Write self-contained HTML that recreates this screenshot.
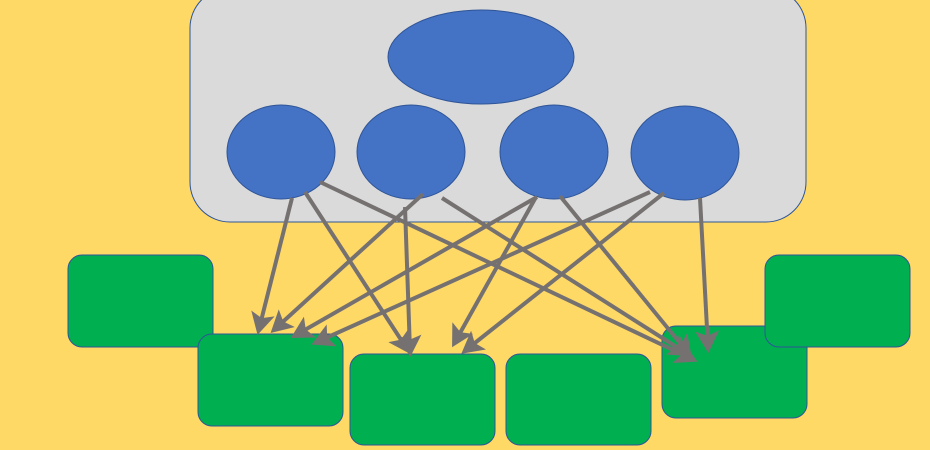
<!DOCTYPE html>
<html><head><meta charset="utf-8"><style>html,body{margin:0;padding:0;background:#ffd966;}svg{display:block}</style></head>
<body>
<svg width="930" height="450" viewBox="0 0 930 450" xmlns="http://www.w3.org/2000/svg">
<defs>
<marker id="a" markerWidth="6" markerHeight="6" refX="4" refY="3" orient="auto" markerUnits="strokeWidth">
<path d="M0,0 L5.5,3 L0,6 L1.2,3 z" fill="#767171"/>
</marker>
</defs>
<rect width="930" height="450" fill="#ffd966"/>
<rect x="190" y="-12" width="616" height="234" rx="40" fill="#dadada" stroke="#2f5597" stroke-width="1"/>
<ellipse cx="481" cy="57" rx="93" ry="47" fill="#4472c4" stroke="#2f5597"/>
<ellipse cx="281" cy="152" rx="54" ry="47" fill="#4472c4" stroke="#2f5597"/>
<ellipse cx="411" cy="152" rx="54" ry="47" fill="#4472c4" stroke="#2f5597"/>
<ellipse cx="554" cy="152" rx="54" ry="47" fill="#4472c4" stroke="#2f5597"/>
<ellipse cx="685" cy="153" rx="54" ry="47" fill="#4472c4" stroke="#2f5597"/>
<g fill="#00b050" stroke="#2f5597" stroke-width="1">
<rect x="68" y="255" width="145" height="92" rx="14"/>
<rect x="198" y="334" width="145" height="92" rx="14"/>
<rect x="350" y="354" width="145" height="91" rx="14"/>
<rect x="506" y="354" width="145" height="91" rx="14"/>
<rect x="662" y="326" width="145" height="92" rx="14"/>
<rect x="765" y="255" width="145" height="92" rx="14"/>
</g>
<g stroke="#767171" stroke-width="4" marker-end="url(#a)" fill="none">
<line x1="292" y1="198" x2="259" y2="329"/>
<line x1="305" y1="192" x2="407" y2="349"/>
<line x1="320" y1="182" x2="692" y2="359"/>
<line x1="423" y1="194" x2="275" y2="329"/>
<line x1="405" y1="207" x2="410" y2="351"/>
<line x1="442" y1="198" x2="686" y2="353"/>
<line x1="537" y1="197" x2="296" y2="335"/>
<line x1="536" y1="197" x2="455" y2="342"/>
<line x1="560" y1="196" x2="688" y2="353"/>
<line x1="650" y1="192" x2="317" y2="342"/>
<line x1="664" y1="193" x2="466" y2="350"/>
<line x1="700" y1="198" x2="708" y2="347"/>
</g>
</svg>
</body></html>
